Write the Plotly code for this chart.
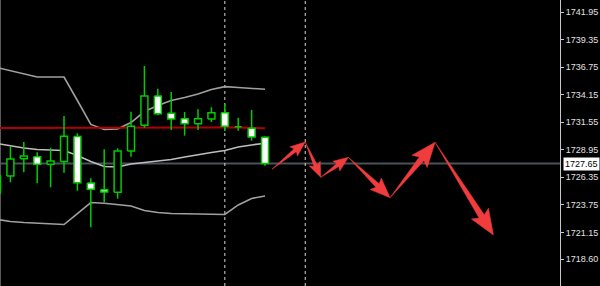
import math
import plotly.graph_objects as go

# ---------------- data ----------------
candle_idx = list(range(21))
opens  = [1724.87, 1726.48, 1728.11, 1728.30, 1727.58, 1727.85, 1730.21, 1725.82, 1725.18, 1724.94,
          1728.84, 1731.27, 1734.04, 1732.40, 1731.88, 1731.42, 1731.86, 1732.46, 1731.13, 1730.99, 1730.14]
highs  = [1727.04, 1729.25, 1729.69, 1728.72, 1729.15, 1732.15, 1730.51, 1726.26, 1729.01, 1729.10,
          1732.55, 1736.87, 1734.73, 1734.42, 1732.53, 1732.78, 1732.97, 1733.28, 1731.99, 1732.72, 1730.21]
lows   = [1724.40, 1725.88, 1726.83, 1725.79, 1725.41, 1726.79, 1725.08, 1721.63, 1723.99, 1724.33,
          1728.30, 1731.04, 1732.21, 1730.83, 1730.29, 1730.83, 1731.58, 1730.73, 1730.76, 1729.81, 1727.45]
closes = [1726.48, 1728.08, 1728.37, 1727.58, 1727.90, 1730.23, 1725.84, 1725.22, 1724.97, 1728.84,
          1731.17, 1734.04, 1732.37, 1731.86, 1731.42, 1731.89, 1732.46, 1731.17, 1731.16, 1730.16, 1727.65]

band_upper  = [1736.73, 1736.45, 1736.12, 1735.83, 1735.83, 1735.83, 1733.61, 1731.35, 1730.87, 1730.92,
               1731.53, 1732.57, 1733.14, 1733.61, 1733.90, 1734.23, 1734.65, 1734.92, 1734.84, 1734.75, 1734.67]
band_middle = [1729.55, 1729.31, 1729.12, 1728.98, 1728.93, 1728.89, 1728.42, 1727.85, 1727.38, 1727.33,
               1727.61, 1727.75, 1727.90, 1728.04, 1728.27, 1728.51, 1728.70, 1728.89, 1729.22, 1729.41, 1729.57]
band_lower  = [1722.37, 1722.18, 1722.08, 1722.01, 1721.94, 1721.89, 1722.93, 1723.97, 1723.90, 1723.78,
               1723.64, 1723.22, 1723.03, 1722.93, 1722.90, 1722.89, 1722.89, 1722.84, 1723.74, 1724.35, 1724.59]
red_ma      = [1731.00, 1731.00, 1731.00, 1731.00, 1731.00, 1731.00, 1731.00, 1731.00, 1730.98, 1730.98,
               1731.00, 1731.00, 1731.00, 1731.00, 1731.00, 1731.02, 1731.05, 1731.08, 1731.05, 1731.00, 1730.98]

forecast_x = [20.52, 23.0, 24.16, 26.22, 29.33, 32.69, 37.04]
forecast_p = [1727.11, 1729.69, 1726.35, 1728.24, 1724.43, 1729.66, 1720.90]

vline_x = [17, 23]
last_price = 1727.65
tick_vals = [1741.95, 1739.35, 1736.75, 1734.15, 1731.55, 1728.95, 1726.35, 1723.75, 1721.15, 1718.60, 1716.00]
tick_text = ["%.2f" % v for v in tick_vals]

# ---------------- layout constants ----------------
W, H = 600, 286
M_R = 40
PW, PH = W - M_R, H
X_RANGE = [0.224, 42.01]
Y_RANGE = [1716.08, 1743.11]

GREEN = "#00CC00"
BAND = "#A0A0A0"
RED = "#F03C3C"


def to_px(x, p):
    return ((x - X_RANGE[0]) / (X_RANGE[1] - X_RANGE[0]) * PW,
            (Y_RANGE[1] - p) / (Y_RANGE[1] - Y_RANGE[0]) * PH)


def to_data(px, py):
    return (X_RANGE[0] + px / PW * (X_RANGE[1] - X_RANGE[0]),
            Y_RANGE[1] - py / PH * (Y_RANGE[1] - Y_RANGE[0]))


fig = go.Figure()

# bands and MA (under candles)
for vals, col in [(band_upper, BAND), (band_middle, "#BDBDBD"), (band_lower, BAND)]:
    fig.add_trace(go.Scatter(x=candle_idx, y=vals, mode="lines",
                             line=dict(color=col, width=1.6), hoverinfo="skip"))
fig.add_trace(go.Scatter(x=candle_idx, y=red_ma, mode="lines",
                         line=dict(color="#B00000", width=2), hoverinfo="skip"))

# wicks
wx, wy = [], []
for i, h, l in zip(candle_idx, highs, lows):
    wx += [i, i, None]
    wy += [l, h, None]
fig.add_trace(go.Scatter(x=wx, y=wy, mode="lines", line=dict(color=GREEN, width=1.5),
                         hoverinfo="skip"))

# bodies
HALF = 0.26
for bull, fillc in [(True, "#000000"), (False, "#FFFFFF")]:
    bx, by = [], []
    for i, o, c in zip(candle_idx, opens, closes):
        if (c >= o) != bull:
            continue
        bx += [i - HALF, i + HALF, i + HALF, i - HALF, i - HALF, None]
        by += [o, o, c, c, o, None]
    fig.add_trace(go.Scatter(x=bx, y=by, mode="lines", fill="toself", fillcolor=fillc,
                             line=dict(color=GREEN, width=1.5), hoverinfo="skip"))

# forecast arrows
for k in range(len(forecast_x) - 1):
    sx, sy = to_px(forecast_x[k], forecast_p[k])
    tx, ty = to_px(forecast_x[k + 1], forecast_p[k + 1])
    L = math.hypot(tx - sx, ty - sy)
    ux, uy = (tx - sx) / L, (ty - sy) / L
    nx, ny = -uy, ux
    h = min(max(0.3 * L, 13), 22)
    hw = 0.46 * h
    sw = max(0.3 * hw, 1.6)
    bxp, byp = tx - ux * h, ty - uy * h
    barbx, barby = tx - ux * h * 1.15, ty - uy * h * 1.15
    pts = [(sx, sy),
           (bxp + nx * sw, byp + ny * sw),
           (barbx + nx * hw, barby + ny * hw),
           (tx, ty),
           (barbx - nx * hw, barby - ny * hw),
           (bxp - nx * sw, byp - ny * sw),
           (sx, sy)]
    dpts = [to_data(px, py) for px, py in pts]
    fig.add_trace(go.Scatter(x=[d[0] for d in dpts], y=[d[1] for d in dpts], mode="lines",
                             fill="toself", fillcolor=RED, line=dict(color=RED, width=0.5),
                             hoverinfo="skip"))

shapes = [dict(type="line", xref="paper", yref="y", x0=0, x1=1, y0=last_price, y1=last_price,
               line=dict(color="#4A525C", width=2), layer="below"),
          dict(type="line", xref="paper", yref="paper", x0=0, x1=0, y0=0, y1=1,
               line=dict(color="#5A5A5A", width=2), layer="below")]
for vx in vline_x:
    shapes.append(dict(type="line", xref="x", yref="paper", x0=vx, x1=vx, y0=0, y1=1,
                       line=dict(color="#D8D8D8", width=1, dash="3px,3px"), layer="below"))

fig.update_layout(
    width=W, height=H,
    margin=dict(l=0, r=M_R, t=0, b=0),
    paper_bgcolor="#000000", plot_bgcolor="#000000",
    showlegend=False,
    shapes=shapes,
    xaxis=dict(range=X_RANGE, visible=False, fixedrange=True),
    yaxis=dict(range=Y_RANGE, side="right", tickvals=tick_vals, ticktext=tick_text,
               ticks="outside", ticklen=3, tickcolor="#C8C8C8", showline=True,
               linecolor="#C8C8C8", linewidth=1, showgrid=False, zeroline=False,
               tickfont=dict(family="Liberation Sans, Arial", size=9, color="#E0E0E0")),
    annotations=[dict(x=1, xref="paper", y=last_price, yref="y", xanchor="left", xshift=3,
                      text="%.2f" % last_price, showarrow=False, bgcolor="#FFFFFF",
                      font=dict(family="Liberation Sans, Arial", size=9, color="#000000"),
                      borderpad=1)],
)

fig.write_html("out.html")
